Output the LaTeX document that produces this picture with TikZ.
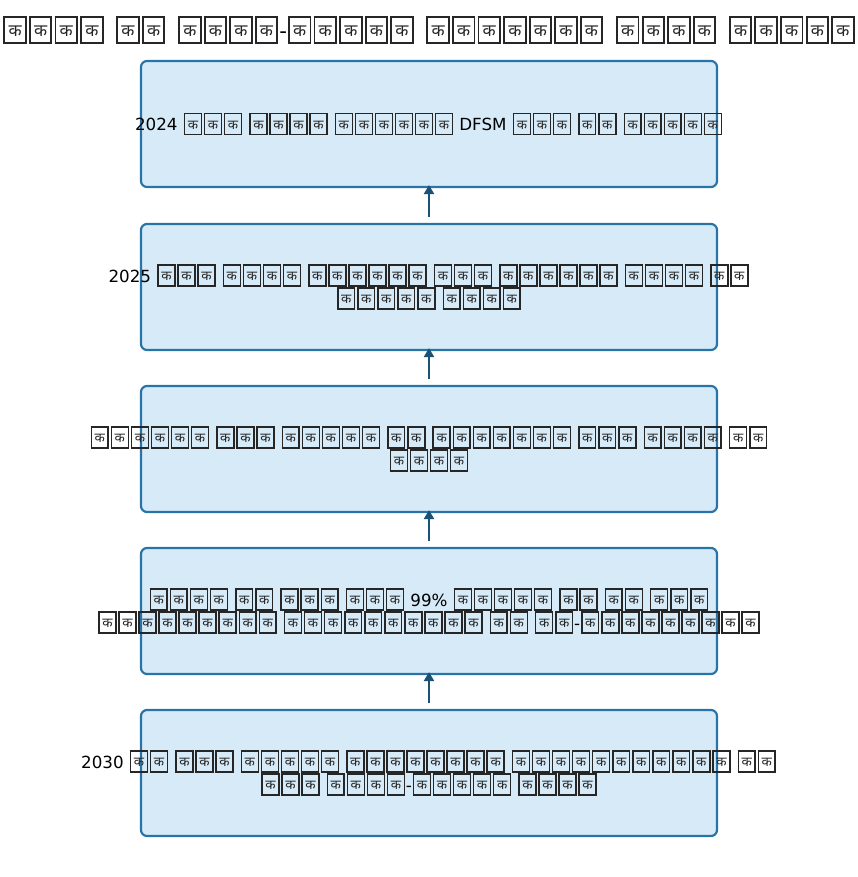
\documentclass[tikz,border=0pt]{standalone}
\usepackage{fontspec}
\usepackage{graphicx}
\setmainfont{DejaVu Sans}
\newfontfamily\devfont[Script=Devanagari]{Noto Sans}
\usetikzlibrary{arrows.meta}
\definecolor{boxfill}{HTML}{D6EAF8}
\definecolor{boxline}{HTML}{2874A6}
\definecolor{arrcol}{HTML}{1A5276}
\newcommand\tofu{\kern0.05em\relax{\color{black!85}\setlength\fboxsep{0pt}\setlength\fboxrule{0.09em}\fbox{\makebox[0.92em]{\rule[-0.18em]{0pt}{1.16em}\raisebox{0.08em}{\scalebox{0.8}{\devfont\char"0915}}}}}\kern0.05em\relax}
\catcode`\क=\active
\def क{\tofu}
\begin{document}
\begin{tikzpicture}[x=1pt,y=-1pt,
 box/.style={draw=boxline,fill=boxfill,line width=2.2pt,rounded corners=6pt,minimum width=576pt,minimum height=126pt,inner sep=0pt},
 lbl/.style={align=center,inner sep=0pt,font=\fontsize{16.7}{23}\selectfont},
 arr/.style={draw=arrcol,line width=2.5pt,-{Triangle[length=9pt,width=10pt]}},
 ttl/.style={inner sep=0pt,font=\fontsize{21.3}{25}\selectfont}]
\useasboundingbox (0,0) rectangle (858,877);
\node[ttl] (title) at (429,30) {\spaceskip=0.5em कककक कक कककक-ककककक ककककककक कककक ककककक};
\node[box] (b1) at (429,124) {};
\node[box] (b2) at (429,287) {};
\node[box] (b3) at (429,449) {};
\node[box] (b4) at (429,611) {};
\node[box] (b5) at (429,773) {};
\node[lbl] (t1) at (b1) {2024 ककक कककक कककककक DFSM ककक कक ककककक};
\node[lbl] (t2) at (b2) {2025 ककक कककक कककककक ककक कककककक कककक कक\\ककककक कककक};
\node[lbl] (t3) at (b3) {कककककक ककक ककककक कक ककककककक ककक कककक कक\\कककक};
\node[lbl] (t4) at (b4) {कककक कक ककक ककक 99\% ककककक कक कक ककक\\ककककककककक कककककककककक कक कक-ककककककककक};
\node[lbl] (t5) at (b5) {2030 कक ककक ककककक कककककककक ककककककककककक कक\\ककक कककक-ककककक कककक};
\draw[arr] ([yshift=6pt]b2.north) -- ([yshift=3pt]b1.south);
\draw[arr] ([yshift=6pt]b3.north) -- ([yshift=3pt]b2.south);
\draw[arr] ([yshift=6pt]b4.north) -- ([yshift=3pt]b3.south);
\draw[arr] ([yshift=6pt]b5.north) -- ([yshift=3pt]b4.south);
\end{tikzpicture}
\end{document}
